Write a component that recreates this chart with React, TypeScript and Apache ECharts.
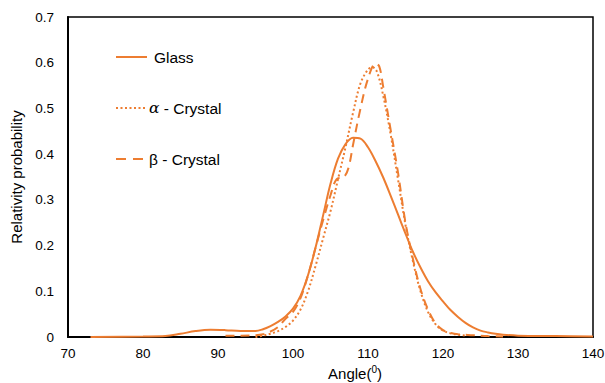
import React, { useEffect, useRef } from "react";
import * as echarts from "echarts";

const xTicks = [70, 80, 90, 100, 110, 120, 130, 140];

const glassX = [73, 80, 83, 85, 87, 89, 91, 93, 95, 96, 97, 98, 99, 100, 101, 102, 103, 104, 105, 106, 107, 108, 109, 110, 111, 112, 113, 114, 115, 116, 117, 118, 119, 120, 121, 122, 123, 124, 125, 126, 127, 128, 130, 135, 140];
const glassY = [0, 0.001, 0.002, 0.007, 0.013, 0.016, 0.015, 0.013, 0.013, 0.017, 0.024, 0.033, 0.045, 0.062, 0.09, 0.135, 0.195, 0.265, 0.335, 0.39, 0.422, 0.436, 0.434, 0.415, 0.385, 0.35, 0.31, 0.268, 0.226, 0.186, 0.152, 0.122, 0.098, 0.078, 0.059, 0.044, 0.031, 0.021, 0.014, 0.01, 0.007, 0.005, 0.003, 0.002, 0.001];

const alphaX = [95, 96, 97, 98, 99, 100, 101, 102, 103, 104, 105, 106, 107, 108, 109, 110, 110.6, 111.2, 112, 113, 114, 115, 116, 117, 118, 119, 120, 121, 122, 123];
const alphaY = [0, 0.003, 0.007, 0.013, 0.022, 0.036, 0.06, 0.1, 0.155, 0.215, 0.275, 0.345, 0.415, 0.49, 0.555, 0.585, 0.59, 0.58, 0.53, 0.445, 0.345, 0.245, 0.165, 0.1, 0.055, 0.028, 0.014, 0.008, 0.005, 0.003];

const betaX = [91, 93, 95, 96, 97, 98, 99, 100, 101, 102, 103, 104, 105, 105.8, 106.8, 107.4, 108, 109, 110, 111, 111.5, 112, 113, 114, 115, 116, 117, 118, 119, 120, 121, 122, 124, 126, 128];
const betaY = [0.003, 0.003, 0.004, 0.006, 0.012, 0.022, 0.04, 0.055, 0.085, 0.135, 0.195, 0.255, 0.31, 0.345, 0.35, 0.37, 0.42, 0.5, 0.565, 0.598, 0.592, 0.55, 0.455, 0.36, 0.25, 0.17, 0.105, 0.06, 0.03, 0.015, 0.009, 0.006, 0.004, 0.002, 0.001];

const seriesNames = ["Glass", "α - Crystal", "β - Crystal"];

const ORANGE = "#ED7D31";
const FONT = "Liberation Sans, Arial, sans-serif";

function zip(xs: number[], ys: number[]) {
  return xs.map((x, i) => [x, ys[i]]);
}

export default function App() {
  const ref = useRef<HTMLDivElement>(null);

  useEffect(() => {
    if (!ref.current) return;
    const chart = echarts.init(ref.current, undefined, { renderer: "svg" });
    const lineTypes: any[] = ["solid", [2, 2.5], [9, 6]];
    const legendDash: any[] = [null, [2, 2.5], [10, 7]];
    const datas = [zip(glassX, glassY), zip(alphaX, alphaY), zip(betaX, betaY)];
    const legendLabels = [
      "{n|Glass}",
      "{i|α}{n| - Crystal}",
      "{n|β - Crystal}",
    ];
    const legendRows = [57, 108, 159];
    const legendGraphics: any[] = [];
    seriesNames.forEach((_, i) => {
      legendGraphics.push({
        type: "line",
        shape: { x1: 116, y1: legendRows[i], x2: 147, y2: legendRows[i] },
        style: { stroke: ORANGE, lineWidth: 2, lineDash: legendDash[i] },
        silent: true,
      });
      legendGraphics.push({
        type: "text",
        x: i === 0 ? 154 : 149,
        y: legendRows[i],
        style: {
          text: legendLabels[i],
          verticalAlign: "middle",
          rich: {
            n: { fontFamily: FONT, fontSize: 15.5, fill: "#000" },
            i: { fontFamily: "DejaVu Serif, serif", fontStyle: "italic", fontSize: 15.5, fill: "#000" },
          },
        },
        silent: true,
      });
    });
    chart.setOption({
      animation: false,
      backgroundColor: "#ffffff",
      grid: {
        left: 68,
        right: 12,
        top: 17,
        bottom: 46,
        show: true,
        borderColor: "#000",
        borderWidth: 1.5,
        containLabel: false,
        outerBoundsMode: "none",
      },
      graphic: legendGraphics,
      xAxis: {
        type: "value",
        min: xTicks[0],
        max: xTicks[xTicks.length - 1],
        interval: 10,
        name: "{n|Angle(}{s|0}{n|)}",
        nameLocation: "middle",
        nameGap: 25,
        nameTextStyle: {
          padding: [0, 0, 0, 49],
          rich: {
            n: { fontFamily: FONT, fontSize: 15, color: "#000" },
            s: { fontFamily: FONT, fontSize: 10, color: "#000", verticalAlign: "top", padding: [0, 0, 7, 0] },
          },
        },
        axisLine: { show: true, lineStyle: { color: "#000", width: 2 } },
        axisTick: { show: false },
        splitLine: { show: false },
        axisLabel: { fontFamily: FONT, fontSize: 13.5, color: "#000", margin: 9 },
      },
      yAxis: {
        type: "value",
        min: 0,
        max: 0.7,
        interval: 0.1,
        name: "Relativity probability",
        nameLocation: "middle",
        nameGap: 44,
        nameTextStyle: { fontFamily: FONT, fontSize: 15, color: "#000" },
        axisLine: { show: true, lineStyle: { color: "#000", width: 2 } },
        axisTick: { show: false },
        splitLine: { show: false },
        axisLabel: { fontFamily: FONT, fontSize: 13.5, color: "#000", margin: 14 },
      },
      series: seriesNames.map((name, i) => ({
        name,
        type: "line",
        data: datas[i],
        smooth: 0.35,
        showSymbol: false,
        symbol: "none",
        color: ORANGE,
        lineStyle: { color: ORANGE, width: 2, type: lineTypes[i] },
      })),
    });
    return () => chart.dispose();
  }, []);

  return (
    <div
      ref={ref}
      style={{ position: "fixed", left: 0, top: 0, width: 605, height: 383 }}
    />
  );
}
